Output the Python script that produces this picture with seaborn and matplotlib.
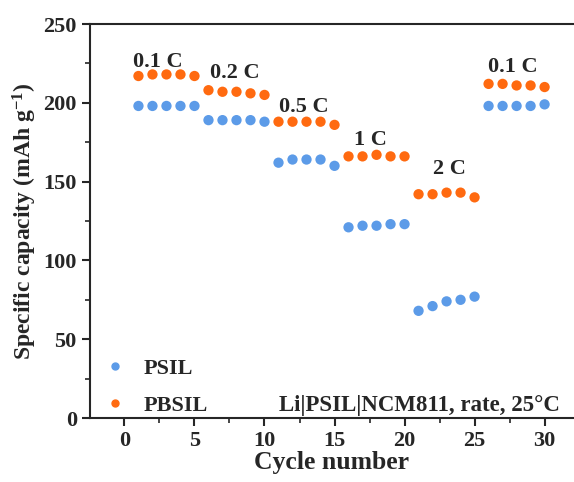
import matplotlib
matplotlib.use("Agg")
import matplotlib.pyplot as plt
import seaborn as sns
import pandas as pd
from matplotlib.ticker import MultipleLocator
from matplotlib.lines import Line2D

cycles = list(range(1, 31))
psil = [198, 198, 198, 198, 198,
        189, 189, 189, 189, 188,
        162, 164, 164, 164, 160,
        121, 122, 122, 123, 123,
        68, 71, 74, 75, 77,
        198, 198, 198, 198, 199]
pbsil = [217, 218, 218, 218, 217,
         208, 207, 207, 206, 205,
         188, 188, 188, 188, 186,
         166, 166, 167, 166, 166,
         142, 142, 143, 143, 140,
         212, 212, 211, 211, 210]
series_names = ["PSIL", "PBSIL"]
rate_labels = ["0.1 C", "0.2 C", "0.5 C", "1 C", "2 C", "0.1 C"]
rate_label_x = [2.4, 7.9, 12.8, 17.6, 23.2, 27.7]
rate_label_y = [223, 215.5, 194, 173, 155, 219.5]

sns.set_style("ticks")
plt.rcParams['font.family'] = ['Liberation Serif', 'DejaVu Serif']
plt.rcParams['font.weight'] = 'bold'
plt.rcParams['mathtext.fontset'] = 'custom'
plt.rcParams['mathtext.rm'] = 'Liberation Serif:bold'
plt.rcParams['mathtext.bf'] = 'Liberation Serif:bold'
plt.rcParams['mathtext.default'] = 'bf'

df = pd.DataFrame({
    "cycle": cycles * 2,
    "capacity": psil + pbsil,
    "sample": [series_names[0]] * len(cycles) + [series_names[1]] * len(cycles),
})

fig = plt.figure(figsize=(5.74, 4.82), dpi=100)
ax = fig.add_axes([90 / 574, 64 / 482, 484 / 574, 394 / 482])
palette = {"PSIL": "#5C9BE8", "PBSIL": "#FF6A10"}
sns.scatterplot(data=df, x="cycle", y="capacity", hue="sample", palette=palette,
                s=55, linewidth=0, ax=ax, legend=False)

ax.set_xlim(-2.46, 32.1)
ax.set_ylim(0, 250)
ax.xaxis.set_major_locator(MultipleLocator(5))
ax.xaxis.set_minor_locator(MultipleLocator(2.5))
ax.yaxis.set_major_locator(MultipleLocator(50))
ax.yaxis.set_minor_locator(MultipleLocator(25))
ax.tick_params(which='major', direction='out', length=6, width=1.5, labelsize=16)
ax.tick_params(which='minor', direction='out', length=3.5, width=1.2)
for lab in ax.get_xticklabels() + ax.get_yticklabels():
    lab.set_fontweight('bold')
for side in ['left', 'bottom', 'top', 'right']:
    ax.spines[side].set_linewidth(1.5)
ax.spines['right'].set_visible(False)

ax.set_xlabel("Cycle number", fontsize=18.5, fontweight='bold', labelpad=0)
ax.set_ylabel(r"Specific capacity (mAh g$^{-1}$)", fontsize=17, fontweight='bold', labelpad=3)

for t, x, y in zip(rate_labels, rate_label_x, rate_label_y):
    ax.text(x, y, t, ha='center', va='baseline', fontsize=16, fontweight='bold')

handles = [Line2D([], [], marker='o', linestyle='', color=palette[n], markersize=5)
           for n in series_names]
ax.legend(handles, series_names, loc='lower left', bbox_to_anchor=(0.0, 0.005),
          frameon=False, prop={'weight': 'bold', 'size': 16},
          handlelength=2.25, handletextpad=0.15, labelspacing=0.75,
          borderaxespad=0.0, borderpad=0.0)

ax.text(0.971, 0.018, "Li|PSIL|NCM811, rate, 25°C", transform=ax.transAxes,
        ha='right', va='baseline', fontsize=16.5, fontweight='bold')

fig.savefig("out.png", dpi=100)
